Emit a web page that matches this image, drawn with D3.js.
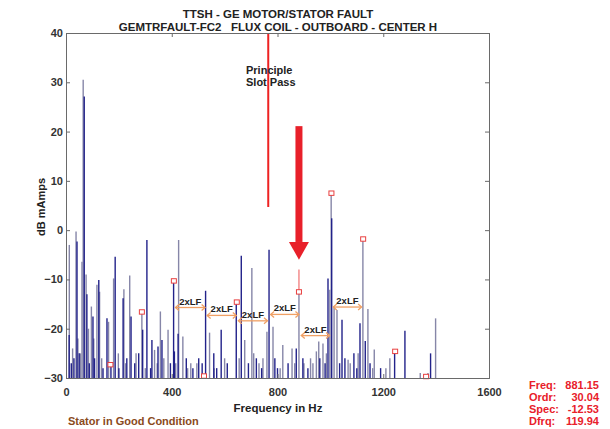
<!DOCTYPE html>
<html><head><meta charset="utf-8">
<script src="https://cdn.jsdelivr.net/npm/d3@7"></script>
<style>
body{margin:0;background:#fff;}
svg{display:block;font-family:"Liberation Sans",Arial,sans-serif;font-weight:bold;}
</style></head>
<body><svg id="c" width="610" height="429"></svg>
<script>
// ---- data ----
const titleLines = ["TTSH - GE MOTOR/STATOR FAULT", "GEMTRFAULT-FC2   FLUX COIL - OUTBOARD - CENTER H"];
const xTicks = [0, 400, 800, 1200, 1600];
const yTicks = [-30, -20, -10, 0, 10, 20, 30, 40];

// lighter (grey-blue) spectrum lines: frequency (Hz) and level (dB)
const greyFreq = [12.5, 38, 60.5, 65, 76, 96, 117, 127, 161, 180, 219, 241, 287, 335, 357, 386, 426, 442, 472, 543, 676, 703, 760, 783, 820, 855, 881.15, 934, 947, 956, 972, 998, 1003, 1014, 1025, 1067, 1123, 1142, 1166, 1225, 1369, 1398,
  25, 45, 55, 85, 105, 135, 198, 225, 265, 300, 345, 370, 415, 460, 495, 560, 600, 655, 710, 730, 745, 810, 865, 900, 925, 985, 1075, 1105, 1160, 1210, 1340];
const greyDb = [-3, -0.3, -6.4, 30.5, -9, -15.5, -11.1, -12.5, -18.6, -9.8, -12, -9.2, -16.6, -24.3, -16.5, -20.2, -2.0, -21.6, -27, -20.8, -22.3, -7.7, -20.6, -19.6, -23.3, -24, -12.53, -27, -24.6, -22.6, -23, -12.1, 7.5, -15.5, -16.2, -26.3, -1.8, -16, -24.2, -26, -29, -17.9,
  -24, -22, -25, -20, -22, -26, -25, -27, -25, -28, -27, -26, -27, -28, -27, -28, -26, -26, -25, -27, -26, -28, -27, -27, -26, -25, -27, -25, -28, -28, -29];

// darker (navy) spectrum lines
const navyFreq = [12, 41.6, 69, 79, 102, 124, 155, 186, 216, 246, 275, 290, 306, 325, 348, 363, 407, 410, 424, 502, 528, 559, 587, 644, 663, 768, 790, 871, 896, 980, 991, 1005, 1044, 1089, 1112, 1132, 1243, 1282, 1379,
  20, 30, 50, 88, 108, 140, 170, 200, 230, 260, 320, 395, 455, 480, 515, 570, 610, 690, 720, 740, 800, 840, 915, 960, 1035, 1055, 1100, 1150, 1190];
const navyDb = [-21.3, -2.3, 27.1, -13, -17.5, -10.1, -17.9, -5.4, -13.8, -17.5, -25, -20.2, -2, -22.3, -23.6, -22.3, -10.3, -24.6, -21, -26, -12.3, -25, -20.2, -14.6, -5.2, -4, -26, -24, -26, -27, -9.8, 2.4, -18.2, -25, -18.9, -22.5, -24.6, -20.4, -25,
  -27, -26, -25, -27, -26, -28, -27, -28, -26, -27, -28, -27, -26, -28, -27, -28, -27, -27, -26, -28, -28, -27, -28, -26, -27, -26, -28, -27, -28];

// harmonic markers (2xLF family)
const markFreq = [168, 287, 408, 522, 646, 881.15, 1004, 1124, 1245, 1362];
const markDb = [-27.3, -16.6, -10.3, -29.6, -14.6, -12.53, 7.5, -1.8, -24.6, -29.7];

// 2xLF spacing arrows
const lfStart = [412, 532, 650, 772, 888, 1009];
const lfEnd = [528, 646, 764, 883, 999, 1120];
const lfLevel = [-15.7, -17.3, -18.4, -17.1, -21.4, -15.6];
const lfLabel = "2xLF";

// principal slot pass line & cursor
const slotFreq = 765, slotTopDb = 40, slotBottomDb = 4.7;
const cursorFreq = 881.15, cursorDb = -12.53, cursorTopDb = -8;
const arrowTopDb = 21.1, arrowHeadDb = -2.4, arrowTipDb = -6;

const readoutLabels = ["Freq:", "Ordr:", "Spec:", "Dfrq:"];
const readoutValues = ["881.15", "30.04", "-12.53", "119.94"];

// ---- drawing ----
const svg = d3.select("#c");
const x = d3.scaleLinear().domain([0, 1600]).range([66, 489]);
const y = d3.scaleLinear().domain([-30, 40]).range([378, 33]);

// title
svg.selectAll("text.title").data(titleLines).join("text")
  .attr("x", 278).attr("y", (d, i) => 18 + i * 12.5)
  .attr("text-anchor", "middle").attr("font-size", 11.5).attr("fill", "#222")
  .attr("xml:space", "preserve")
  .text(d => d);

// spectrum lines
const gs = svg.append("g");
gs.selectAll("line.g").data(greyFreq.map((f, i) => [f, greyDb[i]])).join("line")
  .attr("x1", d => x(d[0])).attr("x2", d => x(d[0]))
  .attr("y1", y(-30)).attr("y2", d => y(d[1]))
  .attr("stroke", "#8686a8").attr("stroke-width", 1.4);
gs.selectAll("line.n").data(navyFreq.map((f, i) => [f, navyDb[i]])).join("line")
  .attr("x1", d => x(d[0])).attr("x2", d => x(d[0]))
  .attr("y1", y(-30)).attr("y2", d => y(d[1]))
  .attr("stroke", "#22228a").attr("stroke-width", 1.4);

// principle slot pass line
svg.append("line").attr("x1", x(slotFreq)).attr("x2", x(slotFreq))
  .attr("y1", y(slotTopDb)).attr("y2", y(slotBottomDb))
  .attr("stroke", "#ee2222").attr("stroke-width", 2);
svg.append("text").attr("x", 246).attr("y", 74).attr("font-size", 11).attr("fill", "#222").text("Principle");
svg.append("text").attr("x", 246).attr("y", 86).attr("font-size", 11).attr("fill", "#222").text("Slot Pass");

// cursor pink line
svg.append("line").attr("x1", x(cursorFreq)).attr("x2", x(cursorFreq))
  .attr("y1", y(cursorTopDb)).attr("y2", y(cursorDb))
  .attr("stroke", "#f07070").attr("stroke-width", 1.2);

// big red arrow
const ax = x(cursorFreq);
svg.append("rect").attr("x", ax - 3.5).attr("y", y(arrowTopDb)).attr("width", 7)
  .attr("height", y(arrowHeadDb) - y(arrowTopDb)).attr("fill", "#e8202a");
svg.append("path").attr("d", `M${ax - 10},${y(arrowHeadDb)}L${ax + 10},${y(arrowHeadDb)}L${ax},${y(arrowTipDb)}Z`)
  .attr("fill", "#e8202a");

// 2xLF arrows
const lf = svg.append("g");
lfStart.forEach((s, i) => {
  const x1 = x(s), x2 = x(lfEnd[i]), yy = y(lfLevel[i]);
  lf.append("line").attr("x1", x1 + 1).attr("x2", x2 - 1).attr("y1", yy).attr("y2", yy)
    .attr("stroke", "#f0a064").attr("stroke-width", 1.3);
  lf.append("path").attr("d", `M${x1 + 4},${yy - 3}L${x1 + 0.5},${yy}L${x1 + 4},${yy + 3}M${x2 - 4},${yy - 3}L${x2 - 0.5},${yy}L${x2 - 4},${yy + 3}`)
    .attr("fill", "none").attr("stroke", "#f0a064").attr("stroke-width", 1.3);
  lf.append("text").attr("x", (x1 + x2) / 2).attr("y", yy - 3).attr("text-anchor", "middle")
    .attr("font-size", 9.5).attr("fill", "#222").text(lfLabel);
});

// markers
svg.selectAll("rect.m").data(markFreq.map((f, i) => [f, markDb[i]])).join("rect")
  .attr("x", d => x(d[0]) - 2.5).attr("y", d => y(d[1]) - 2.2).attr("width", 5).attr("height", 4.4)
  .attr("fill", "#fff").attr("stroke", "#e84040").attr("stroke-width", 1);

// axes frame
const axc = "#6a6a6a";
const gLeft = svg.append("g").attr("transform", "translate(66,0)")
  .call(d3.axisLeft(y).tickValues(yTicks).tickSize(-4).tickPadding(3).tickFormat(d3.format("d")));
const gRight = svg.append("g").attr("transform", "translate(489,0)")
  .call(d3.axisRight(y).tickValues(yTicks).tickSize(-4).tickFormat(""));
const gBottom = svg.append("g").attr("transform", "translate(0,378)")
  .call(d3.axisBottom(x).tickValues(xTicks).tickSize(-4).tickPadding(10).tickFormat(d3.format("d")));
const gTop = svg.append("g").attr("transform", "translate(0,33)")
  .call(d3.axisTop(x).tickValues(xTicks).tickSize(-4).tickFormat(""));
[gLeft, gRight, gBottom, gTop].forEach(g => {
  g.select(".domain").attr("stroke", axc);
  g.selectAll(".tick line").attr("stroke", axc);
  g.selectAll(".tick text").attr("font-size", 11).attr("fill", "#333")
    .attr("font-family", "Liberation Sans, Arial, sans-serif").attr("font-weight", "bold");
});

// axis titles
svg.append("text").attr("transform", "translate(45,207) rotate(-90)").attr("text-anchor", "middle")
  .attr("font-size", 11).attr("fill", "#222").text("dB mAmps");
svg.append("text").attr("x", 278).attr("y", 412).attr("text-anchor", "middle")
  .attr("font-size", 11.5).attr("fill", "#222").text("Frequency in Hz");
svg.append("text").attr("x", 68).attr("y", 425).attr("font-size", 11).attr("fill", "#8a4a1c")
  .text("Stator in Good Condition");

// readout
readoutLabels.forEach((l, i) => {
  svg.append("text").attr("x", 529).attr("y", 389 + i * 12).attr("font-size", 11).attr("fill", "#e8202a").text(l);
  svg.append("text").attr("x", 599).attr("y", 389 + i * 12).attr("text-anchor", "end").attr("font-size", 11).attr("fill", "#e8202a").text(readoutValues[i]);
});
</script></body></html>
